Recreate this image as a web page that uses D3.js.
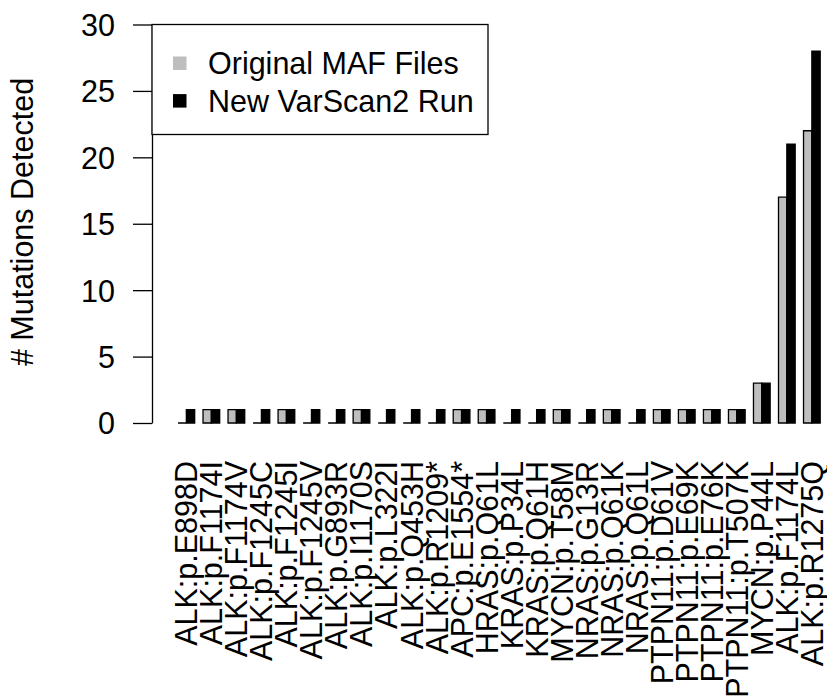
<!DOCTYPE html>
<html>
<head>
<meta charset="utf-8">
<script src="https://cdn.jsdelivr.net/npm/d3@7"></script>
<style>
  body { margin: 0; background: #fff; }
  svg { display: block; }
  text { font-family: "Liberation Sans", Arial, Helvetica, sans-serif; fill: #000; }
</style>
</head>
<body>
<svg id="chart" width="827" height="696"></svg>
<script>
// Mutations, in plotting order
const mutations = [
  "ALK:p.E898D", "ALK:p.F1174I", "ALK:p.F1174V", "ALK:p.F1245C", "ALK:p.F1245I",
  "ALK:p.F1245V", "ALK:p.G893R", "ALK:p.I1170S", "ALK:p.L322I", "ALK:p.Q453H",
  "ALK:p.R1209*", "APC:p.E1554*", "HRAS:p.Q61L", "KRAS:p.P34L", "KRAS:p.Q61H",
  "MYCN:p.T58M", "NRAS:p.G13R", "NRAS:p.Q61K", "NRAS:p.Q61L", "PTPN11:p.D61V",
  "PTPN11:p.E69K", "PTPN11:p.E76K", "PTPN11:p.T507K", "MYCN:p.P44L",
  "ALK:p.F1174L", "ALK:p.R1275Q"
];

// Number of samples in which each mutation was detected
const originalMaf = [0, 1, 1, 0, 1, 0, 0, 1, 0, 0, 0, 1, 1, 0, 0, 1, 0, 1, 0, 1, 1, 1, 1, 3, 17, 22];
const newVarScan  = [1, 1, 1, 1, 1, 1, 1, 1, 1, 1, 1, 1, 1, 1, 1, 1, 1, 1, 1, 1, 1, 1, 1, 3, 21, 28];

const seriesNames  = ["Original MAF Files", "New VarScan2 Run"];
const seriesColors = ["#bebebe", "#000000"];
const yTicks = [0, 5, 10, 15, 20, 25, 30];
const yTitle = "# Mutations Detected";

const svg = d3.select("#chart");
const FONT = 30.5;

// Scales
const y = d3.scaleLinear().domain([0, 30]).range([423, 24.5]);
const x0 = d3.scaleBand()
  .domain(mutations)
  .range([178, 820.2])
  .paddingInner(1 / 3)
  .paddingOuter(0);
const x1 = d3.scaleBand()
  .domain(seriesNames)
  .range([0, x0.bandwidth()])
  .padding(0);

const axisX = 152;

// Bars (as closed paths so that zero-height bars still show their outline)
const rows = mutations.map((m, i) => ({
  name: m,
  vals: [
    { series: seriesNames[0], value: originalMaf[i], color: seriesColors[0] },
    { series: seriesNames[1], value: newVarScan[i],  color: seriesColors[1] }
  ]
}));

const groups = svg.append("g").selectAll("g")
  .data(rows)
  .join("g")
  .attr("transform", d => `translate(${x0(d.name)},0)`);

groups.selectAll("path")
  .data(d => d.vals)
  .join("path")
  .attr("d", d => {
    const p = d3.path();
    const xl = x1(d.series), xr = xl + x1.bandwidth();
    p.moveTo(xl, y(0));
    p.lineTo(xl, y(d.value));
    p.lineTo(xr, y(d.value));
    p.lineTo(xr, y(0));
    p.closePath();
    return p.toString();
  })
  .attr("fill", d => d.color)
  .attr("stroke", "#000")
  .attr("stroke-width", 1.3);

// Category labels, rotated
svg.append("g").selectAll("text")
  .data(mutations)
  .join("text")
  .attr("transform", d => `translate(${x0(d) + x0.bandwidth() / 2},461) rotate(-90)`)
  .attr("text-anchor", "end")
  .attr("dy", "0.36em")
  .style("font-size", FONT + "px")
  .text(d => d);

// Y axis
const yAxis = d3.axisLeft(y)
  .tickValues(yTicks)
  .tickSize(19)
  .tickSizeOuter(0)
  .tickPadding(18)
  .tickFormat(d3.format("d"));

const gy = svg.append("g")
  .attr("transform", `translate(${axisX},0)`)
  .call(yAxis);
gy.select(".domain").attr("stroke", "#000").attr("stroke-width", 1.3);
gy.selectAll(".tick line").attr("stroke", "#000").attr("stroke-width", 1.3);
gy.selectAll(".tick text")
  .attr("fill", "#000")
  .style("font-size", FONT + "px")
  .style("font-family", "\"Liberation Sans\", Arial, Helvetica, sans-serif")
  .attr("dy", "0.36em");

// Y axis title
svg.append("text")
  .attr("transform", `translate(33,222) rotate(-90)`)
  .attr("text-anchor", "middle")
  .style("font-size", FONT + "px")
  .text(yTitle);

// Legend
const legend = svg.append("g").attr("transform", `translate(${axisX},${y(30)})`);
legend.append("rect")
  .attr("x", 0).attr("y", 0)
  .attr("width", 336).attr("height", 110)
  .attr("fill", "#fff")
  .attr("stroke", "#000")
  .attr("stroke-width", 1.3);

const items = legend.selectAll("g.item")
  .data(seriesNames.map((n, i) => ({ name: n, color: seriesColors[i] })))
  .join("g")
  .attr("class", "item")
  .attr("transform", (d, i) => `translate(0,${38.8 + i * 37.6})`);

items.append("rect")
  .attr("x", 21).attr("y", -6.8)
  .attr("width", 13.5).attr("height", 13.5)
  .attr("fill", d => d.color);

items.append("text")
  .attr("x", 56)
  .attr("dy", "0.36em")
  .style("font-size", FONT + "px")
  .text(d => d.name);
</script>
</body>
</html>
